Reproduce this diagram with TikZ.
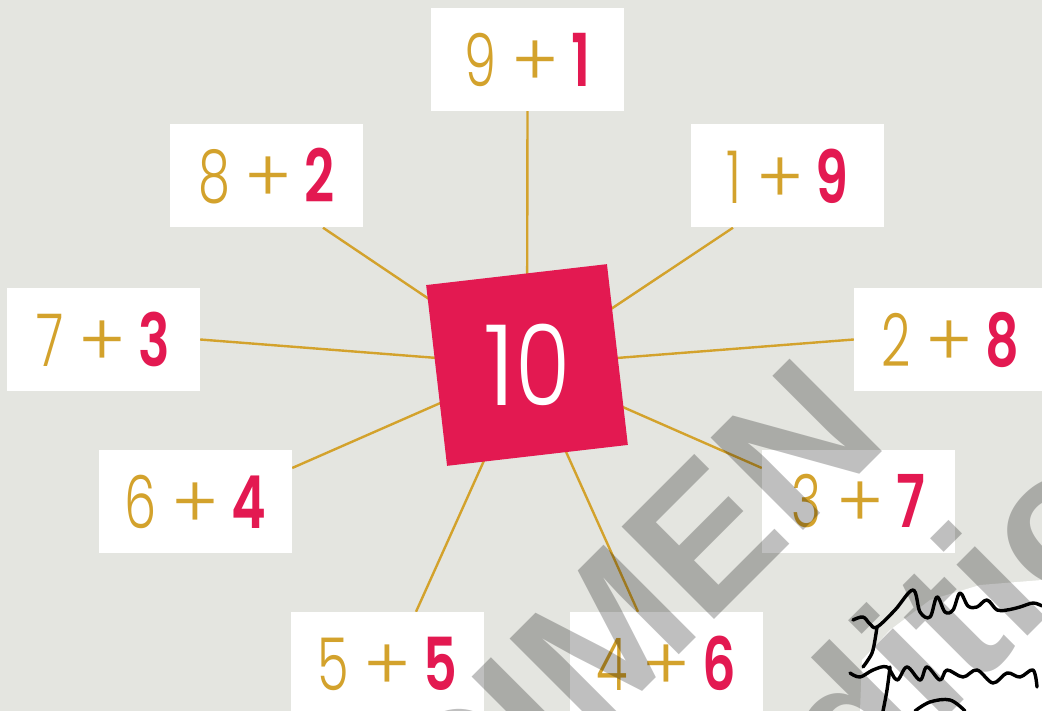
\documentclass[tikz,border=0pt]{standalone}
\usepackage{fontspec}
\setmainfont{Poppins}
\newfontfamily\thinf{Poppins Light}
\newfontfamily\boldf{Poppins SemiBold}
\newfontfamily\wmf{Liberation Sans}
\definecolor{bgc}{HTML}{E4E5E0}
\definecolor{goldc}{HTML}{D3A22C}
\definecolor{redc}{HTML}{E31951}
\newcommand{\sumtxt}[2]{{\color{goldc}\thinf\scalebox{0.7}[1]{#1}\hspace{15pt}+\hspace{12pt}}{\color{redc}\boldf\scalebox{0.72}[1]{#2}}}
\pgfdeclarelayer{bglayer}
\pgfdeclarelayer{spokelayer}
\pgfdeclarelayer{toplayer}
\pgfsetlayers{bglayer,spokelayer,main,toplayer}
\tikzset{
  sumbox/.style={fill=white, minimum width=193pt, minimum height=103pt, inner sep=0pt,
    font=\fontsize{73}{73}\selectfont},
  spoke/.style={draw=goldc, line width=2.4pt},
  centre/.style={fill=redc, minimum width=182pt, minimum height=182pt, inner sep=0pt, rotate=6.6},
  wmark/.style={text=black, opacity=0.25, font=\wmf\bfseries\fontsize{190}{190}\selectfont, inner sep=0pt, rotate=45},
  ink/.style={draw=black, line width=3.4pt, line cap=round, line join=round}
}
\begin{document}
\begin{tikzpicture}[x=1pt, y=-1pt]
\begin{pgfonlayer}{bglayer}
\fill[bgc] (0,0) rectangle (1042,711);
\end{pgfonlayer}
\useasboundingbox (0,0) rectangle (1042,711);
\begin{scope}
\clip (0,0) rectangle (1042,711);
\node[centre] (c) at (527,365) {};
\node[font=\thinf\fontsize{112}{112}\selectfont, text=white, inner sep=0pt] (ten) at (c.center) {1\scalebox{0.8}[1]{0}};
\node[sumbox] (b91) at (527.5,59.5) {\sumtxt{9}{1}};
\node[sumbox] (b82) at (266.5,176) {\sumtxt{8}{2}};
\node[sumbox] (b19) at (787.5,176) {\sumtxt{1}{9}};
\node[sumbox] (b73) at (103.5,339.5) {\sumtxt{7}{3}};
\node[sumbox] (b28) at (950.5,339.5) {\sumtxt{2}{8}};
\node[sumbox] (b64) at (195.5,501.5) {\sumtxt{6}{4}};
\node[sumbox] (b37) at (858.5,501.5) {\sumtxt{3}{7}};
\node[sumbox] (b55) at (387.5,663.5) {\sumtxt{5}{5}};
\node[sumbox] (b46) at (666.5,663.5) {\sumtxt{4}{6}};
\begin{pgfonlayer}{spokelayer}
\draw[spoke] (c.center) -- (b91.south);
\draw[spoke] (c.center) -- ([xshift=56.5pt]b82.south);
\draw[spoke] (c.center) -- ([xshift=-54.5pt]b19.south);
\draw[spoke] (c.center) -- (b73.east);
\draw[spoke] (c.center) -- (b28.west);
\draw[spoke] (c.center) -- ([yshift=33.5pt]b64.east);
\draw[spoke] (c.center) -- ([yshift=33.5pt]b37.west);
\draw[spoke] (c.center) -- ([xshift=28.5pt]b55.north);
\draw[spoke] (c.center) -- ([xshift=-28.5pt]b46.north);
\end{pgfonlayer}
\begin{pgfonlayer}{toplayer}
% paper patch with signature
\fill[white] (860,711) -- (862,660) -- (890,630) -- (930,600) -- (980,585) -- (1042,580) -- (1042,711) -- cycle;
\node[wmark, anchor=base east] (wm1) at (892,442) {SPECIMEN};
\node[wmark, anchor=base west] (wm2) at (764.5,899.5) {Édition};
\draw[ink] plot[smooth, tension=0.6] coordinates {(853,620) (863,617) (870,624) (877,627) (895,610) (913,590) (920,612) (930,617) (937,597) (945,612) (953,610) (960,593) (968,606) (977,607) (987,600) (997,610) (1007,610) (1020,607) (1033,603) (1042,606)};
\draw[ink] plot[smooth, tension=0.6] coordinates {(877,627) (873,650) (868,660) (863,667)};
\draw[ink] plot[smooth, tension=0.6] coordinates {(850,673) (860,677) (873,670) (887,667) (897,680) (907,667) (920,680) (927,667) (940,680) (947,670) (963,677) (977,670) (993,683) (1007,673) (1020,677) (1033,670) (1037,687)};
\draw[ink] plot[smooth, tension=0.6] coordinates {(890,667) (887,690) (883,711)};
\draw[ink] plot[smooth, tension=0.6] coordinates {(915,711) (930,702) (950,700) (965,711)};
\end{pgfonlayer}
\end{scope}
\end{tikzpicture}
\end{document}
